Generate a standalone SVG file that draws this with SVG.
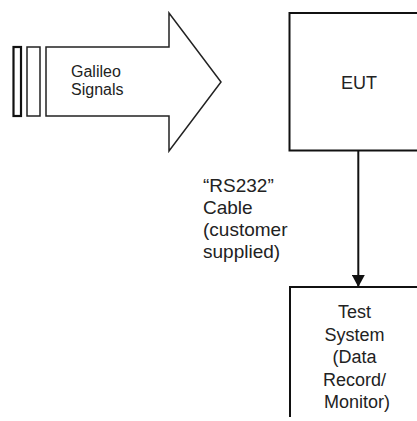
<svg xmlns="http://www.w3.org/2000/svg" width="417" height="421" viewBox="0 0 417 421">
<style>
text{font-family:"Liberation Sans",Arial,sans-serif;fill:#222}
.box{fill:#fff;stroke:#111;stroke-width:2}
.out{fill:#fff;stroke:#222;stroke-width:1.5}
.conn{stroke:#111;stroke-width:2;fill:none}
</style>
<defs>
<marker id="ah" markerWidth="12" markerHeight="13" refX="12" refY="6.5" orient="auto" markerUnits="userSpaceOnUse" viewBox="0 0 12 13">
<path d="M0,0 L12,6.5 L0,13 Z" fill="#111"/>
</marker>
</defs>
<rect width="417" height="421" fill="#fff"/>
<g id="galileo">
<rect x="13.5" y="47" width="7.5" height="69" fill="#fff" stroke="#111" stroke-width="2.2"/>
<rect x="27" y="47" width="13" height="69" class="out"/>
<path d="M46,47 L169,47 L169,13 L221,82 L169,151 L169,116 L46,116 Z" class="out"/>
<text x="71" y="77" font-size="16">Galileo</text>
<text x="71" y="94.5" font-size="16">Signals</text>
</g>
<g id="eut">
<rect x="289.5" y="13" width="140" height="137.5" class="box"/>
<text x="359" y="89" font-size="18" text-anchor="middle">EUT</text>
</g>
<g id="connectors">
<path d="M358.3,151 L358.3,287" class="conn" marker-end="url(#ah)"/>
<text x="203" y="191.5" font-size="19">“RS232”</text>
<text x="203" y="213.5" font-size="19">Cable</text>
<text x="203" y="235.5" font-size="19">(customer</text>
<text x="203" y="257.5" font-size="19">supplied)</text>
</g>
<g id="test-system">
<path d="M290,417 L290,287 L420,287" class="box" fill="none"/>
<text font-size="18" text-anchor="middle">
<tspan x="357" y="318">Test</tspan>
<tspan x="357" y="340.5">System</tspan>
<tspan x="357" y="363">(Data</tspan>
<tspan x="357" y="385.5">Record/</tspan>
<tspan x="357" y="408">Monitor)</tspan>
</text>
</g>
</svg>
